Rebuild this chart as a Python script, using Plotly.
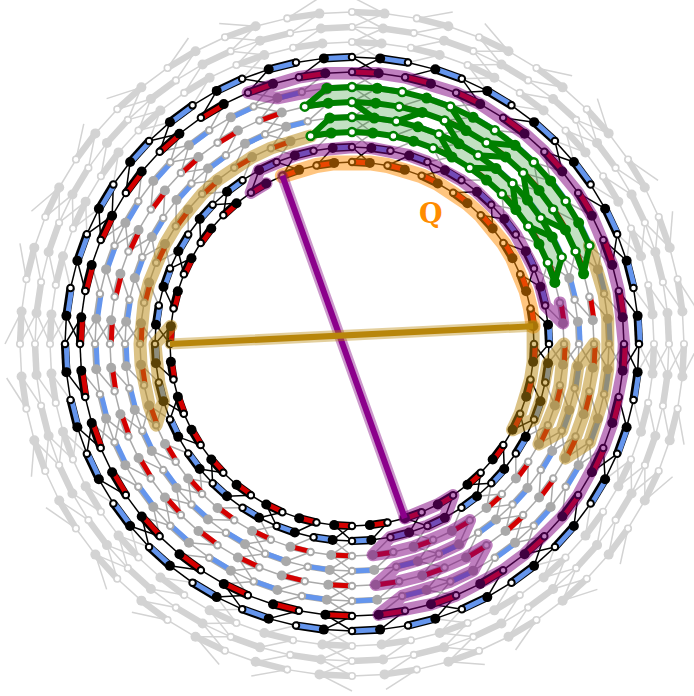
import math
import plotly.graph_objects as go

# ---------- data ----------
RINGS = [332, 317, 302, 287, 272, 257, 242, 227, 212, 197, 182]
RING_GROUP = ["light", "light", "light", "black", "black", "grey", "grey", "grey", "grey", "black", "black"]
RING_SIDE = [1, -1, 1, -1, 1, -1, 1, -1, 1, -1, 1]   # side of the filled node relative to its open node
N_STEPS = 64
STEP_DEG = 5.625
DANGLING_RADIUS = 347
EXTRA_LINKS = [(287, 54)]

# chains: (ring radius, first step, last step)
PURPLE_OUTER = [(257, -1, -3), (272, -4, 31), (257, 30, 27), (242, 26, 31), (227, 30, 27),
                (212, 26, 31), (197, 30, 27), (182, 26, 29)]
PURPLE_INNER = [(182, -5, -6), (197, -5, 14), (212, 15, 14)]
ORANGE_ARC = [(182, -4, 15)]
GOLD_LEFT = [(212, -2, -20), (197, -19, -16), (182, -15, -15)]
GOLD_RIGHT = [(182, 15, 21), (197, 20, 17), (212, 16, 21), (227, 20, 17), (242, 16, 21), (257, 20, 12)]
GREEN_ROWS = [[(257, -1, 12), (242, 13, -2)], [(227, -1, 12), (212, 13, -2)]]
GREEN_CROSS = [(257, 4), (257, 7),
               (242, 0), (242, 3), (242, 4), (242, 7), (242, 8), (242, 11),
               (227, 4), (227, 7), (227, 8), (227, 11)]
GREEN_PATCHES = [[(242, 0, 3), (227, 2, 1)], [(242, 4, 7), (227, 6, 5)], [(242, 8, 11), (227, 10, 9)]]
CHORD_PURPLE = [(182, 29), (182, -4)]
CHORD_GOLD = [(182, 48), (182, 15)]
LABEL = "Q"
LABEL_POS = (79, 131)

COLORS = {"light": "#d3d3d3", "grey": "#a9a9a9", "black": "#000000"}
BLUE, RED = "#6495ed", "#d40000"
PURPLE, ORANGE, GOLD, GREEN = "128,0,128", "255,140,0", "184,134,11", "0,128,0"


def pos(r, p):
    a = math.radians(p * STEP_DEG)
    return r * math.sin(a), r * math.cos(a)


def segs(pairs, dx=0.0):
    xs, ys = [], []
    for a, b in pairs:
        xs += [a[0] + dx, b[0] + dx, None]
        ys += [a[1], b[1], None]
    return xs, ys


def target(p):
    if p % 2 == 1:
        return p - 1
    return p + 1 if p % 4 == 0 else p - 1


def chain(parts):
    pts = []
    for r, a, b in parts:
        s = 1 if b >= a else -1
        pts += [pos(r, p) for p in range(a, b + s, s)]
    return [q[0] for q in pts], [q[1] for q in pts]


fig = go.Figure()


def line(xs, ys, color, width):
    fig.add_trace(go.Scatter(x=xs, y=ys, mode="lines", line=dict(color=color, width=width),
                             hoverinfo="skip", showlegend=False))


def dots(xs, ys, fill, size, edge=None, edge_w=0):
    fig.add_trace(go.Scatter(x=xs, y=ys, mode="markers", hoverinfo="skip", showlegend=False,
                             marker=dict(color=fill, size=size, line=dict(color=edge or fill, width=edge_w))))


# links between rings
for group in ["light", "grey", "black"]:
    pairs = []
    if group == "light":
        for p in range(N_STEPS):
            if p % 4 == 0 or p % 4 == 3:
                pairs.append((pos(DANGLING_RADIUS, p), pos(RINGS[0], target(p))))
    for i in range(len(RINGS) - 1):
        kind = "black" if i in (3, 9) else ("light" if i < 3 else "grey")
        if kind == group:
            for p in range(N_STEPS):
                if p % 4 != 2 or (RINGS[i], p) in EXTRA_LINKS:
                    pairs.append((pos(RINGS[i], p), pos(RINGS[i + 1], target(p))))
    xs, ys = segs(pairs)
    line(xs, ys, COLORS[group], 1.5)

# ring lines, bars, nodes
for r, g, side in zip(RINGS, RING_GROUP, RING_SIDE):
    col = COLORS[g]
    thin, bars = [], []
    for p in range(0, N_STEPS, 2):
        bars.append((pos(r, p), pos(r, p + side)))
        thin.append((pos(r, p), pos(r, p - side)))
    xs, ys = segs(thin)
    line(xs, ys, col, 1.5)
    xs, ys = segs(bars)
    line(xs, ys, col, {"light": 6.5, "grey": 6, "black": 8.2}[g])
    if g != "light":
        xs, ys = segs(bars, dx=1.2)
        line(xs, ys, BLUE if side < 0 else RED, 5)

for r, g, side in zip(RINGS, RING_GROUP, RING_SIDE):
    col = COLORS[g]
    white = [pos(r, p) for p in range(0, N_STEPS, 2)]
    filled = [pos(r, p + side) for p in range(0, N_STEPS, 2)]
    dots([q[0] for q in filled], [q[1] for q in filled], col, 10)
    dots([q[0] for q in white], [q[1] for q in white], "#ffffff", 6.5, col, 2 if g != "light" else 1.6)

# translucent chains
for parts, rgb, w in [(PURPLE_OUTER, PURPLE, 12.5), (PURPLE_INNER, PURPLE, 12.5),
                      (ORANGE_ARC, ORANGE, 15), (GOLD_LEFT, GOLD, 13), (GOLD_RIGHT, GOLD, 13)]:
    xs, ys = chain(parts)
    line(xs, ys, f"rgba({rgb},0.5)", w)

# chords
for c, rgb, core in [(CHORD_PURPLE, PURPLE, "#8b008b"), (CHORD_GOLD, GOLD, "#b8860b")]:
    pts = [pos(r, p) for r, p in c]
    xs, ys = [q[0] for q in pts], [q[1] for q in pts]
    line(xs, ys, f"rgba({rgb},0.4)", 11)
    line(xs, ys, core, 6)

# green sheets
for parts in GREEN_ROWS + GREEN_PATCHES:
    xs, ys = chain(parts)
    fig.add_trace(go.Scatter(x=xs + xs[:1], y=ys + ys[:1], mode="none", fill="toself",
                             fillcolor=f"rgba({GREEN},0.24)", hoverinfo="skip", showlegend=False))
for parts in GREEN_ROWS:
    xs, ys = chain(parts)
    line(xs + xs[:1], ys + ys[:1], f"rgb({GREEN})", 6)
cross = []
for r, p in GREEN_CROSS:
    cross.append((pos(r, p), pos(r - 15, target(p))))
xs, ys = segs(cross)
line(xs, ys, f"rgb({GREEN})", 6)
wh, fl = [], []
for rows in GREEN_ROWS:
    for r, a, b in rows:
        s = 1 if b >= a else -1
        for p in range(a, b + s, s):
            (wh if p % 2 == 0 else fl).append(pos(r, p))
dots([q[0] for q in fl], [q[1] for q in fl], f"rgb({GREEN})", 11)
dots([q[0] for q in wh], [q[1] for q in wh], "#ffffff", 8, f"rgb({GREEN})", 2.5)

fig.add_annotation(x=LABEL_POS[0], y=LABEL_POS[1], text=f"<b>{LABEL}</b>", showarrow=False,
                   font=dict(family="DejaVu Serif", size=27, color="#ff8c00"))

fig.update_layout(width=694, height=696, margin=dict(l=0, r=0, t=0, b=0),
                  paper_bgcolor="white", plot_bgcolor="white", showlegend=False,
                  xaxis=dict(range=[-352, 342], visible=False, fixedrange=True),
                  yaxis=dict(range=[-352, 344], visible=False, fixedrange=True))

ROUND_JS = """
document.body.style.margin='0';
document.querySelectorAll('.js-line').forEach(function(p){
  var w=parseFloat(p.style.strokeWidth||'0'), c=p.style.stroke||'';
  if(w>10||c==='rgb(0, 128, 0)'){p.style.strokeLinecap='round';p.style.strokeLinejoin='round';}
});
"""
fig.write_html("out.html", post_script=ROUND_JS, config={"displayModeBar": False})
